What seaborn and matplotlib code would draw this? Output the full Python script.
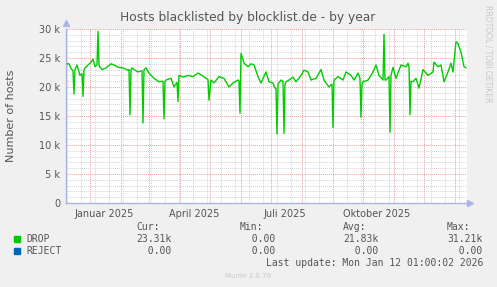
import matplotlib
matplotlib.use("Agg")
import matplotlib.pyplot as plt
import matplotlib.dates as mdates
import matplotlib.ticker as mticker
import seaborn as sns
import pandas as pd

# ---- data -------------------------------------------------------------
dates = [
    "2024-12-09", "2024-12-11", "2024-12-13", "2024-12-15", "2024-12-16", "2024-12-17",
    "2024-12-19", "2024-12-22", "2024-12-24", "2024-12-25", "2024-12-26", "2024-12-27",
    "2024-12-29", "2025-01-02", "2025-01-04", "2025-01-06", "2025-01-08", "2025-01-09",
    "2025-01-10", "2025-01-11", "2025-01-13", "2025-01-17", "2025-01-22", "2025-01-25",
    "2025-01-29", "2025-02-03", "2025-02-08", "2025-02-09", "2025-02-10", "2025-02-11",
    "2025-02-12", "2025-02-14", "2025-02-18", "2025-02-22", "2025-02-23", "2025-02-24",
    "2025-02-26", "2025-03-01", "2025-03-06", "2025-03-11", "2025-03-15", "2025-03-16",
    "2025-03-17", "2025-03-18", "2025-03-23", "2025-03-26", "2025-03-29", "2025-03-30",
    "2025-03-31", "2025-04-04", "2025-04-09", "2025-04-14", "2025-04-19", "2025-04-22",
    "2025-04-27", "2025-04-29", "2025-04-30", "2025-05-02", "2025-05-05", "2025-05-10",
    "2025-05-15", "2025-05-20", "2025-05-24", "2025-05-29", "2025-05-30", "2025-05-31",
    "2025-06-01", "2025-06-04", "2025-06-08", "2025-06-11", "2025-06-14", "2025-06-18",
    "2025-06-21", "2025-06-26", "2025-06-29", "2025-07-03", "2025-07-05", "2025-07-06",
    "2025-07-07", "2025-07-08", "2025-07-11", "2025-07-13", "2025-07-14", "2025-07-15",
    "2025-07-16", "2025-07-19", "2025-07-23", "2025-07-26", "2025-07-31", "2025-08-03",
    "2025-08-07", "2025-08-10", "2025-08-15", "2025-08-20", "2025-08-23", "2025-08-28",
    "2025-08-31", "2025-09-01", "2025-09-02", "2025-09-06", "2025-09-11", "2025-09-14",
    "2025-09-19", "2025-09-22", "2025-09-26", "2025-09-28", "2025-09-29", "2025-09-30",
    "2025-10-01", "2025-10-06", "2025-10-11", "2025-10-14", "2025-10-17", "2025-10-21",
    "2025-10-22", "2025-10-23", "2025-10-24", "2025-10-27", "2025-10-28", "2025-10-29",
    "2025-10-31", "2025-11-03", "2025-11-08", "2025-11-13", "2025-11-15", "2025-11-16",
    "2025-11-17", "2025-11-18", "2025-11-20", "2025-11-23", "2025-11-26", "2025-11-30",
    "2025-12-05", "2025-12-10", "2025-12-11", "2025-12-15", "2025-12-18", "2025-12-21",
    "2025-12-25", "2025-12-28", "2025-12-30", "2026-01-02", "2026-01-04", "2026-01-07",
    "2026-01-10", "2026-01-12",
]
drop_hosts = [
    24000, 24000, 23200, 22800, 18800, 23000,
    23800, 22000, 22300, 18400, 23000, 23300,
    23600, 24300, 24800, 23500, 23800, 29600,
    23800, 23400, 23000, 23300, 24000, 23800,
    23400, 23300, 22900, 23000, 15200, 23000,
    23300, 23000, 22600, 22800, 13800, 23000,
    23300, 22400, 21500, 20900, 21000, 14500,
    21000, 21200, 21500, 20000, 20800, 17500,
    22000, 21700, 22000, 21800, 22400, 22100,
    21500, 21300, 17700, 21200, 20700, 21800,
    21500, 20000, 20700, 21200, 21000, 15500,
    25800, 24100, 23500, 24000, 23800, 21800,
    20700, 22600, 20900, 20700, 19800, 19800,
    11900, 20500, 21200, 21000, 12000, 20500,
    20900, 21200, 21700, 20900, 22000, 22900,
    22600, 21200, 21500, 23000, 21200, 20000,
    20500, 13000, 21200, 21800, 21200, 22600,
    22000, 21200, 22400, 21500, 14800, 20500,
    20900, 21200, 22600, 23800, 22000, 21200,
    29100, 21200, 21200, 21800, 12200, 22000,
    23400, 21500, 23800, 23500, 24100, 23500,
    15200, 21000, 20900, 21500, 19800, 23000,
    22000, 22600, 24300, 23500, 23800, 20900,
    22600, 24100, 22600, 27800, 27500, 26000,
    23500, 23300,
]

series_names = ["DROP", "REJECT"]
series_colors = ["#00CC00", "#0066B3"]
stat_headers = ["Cur:", "Min:", "Avg:", "Max:"]
stat_values = [
    ["23.31k", "  0.00 ", "21.83k", "31.21k"],
    ["  0.00 ", "  0.00 ", "  0.00 ", "  0.00 "],
]
quarter_labels = ["Januar 2025", "April 2025", "Juli 2025", "Oktober 2025"]
quarter_label_dates = ["2025-01-15", "2025-04-15", "2025-07-15", "2025-10-15"]
y_ticks = [0, 5000, 10000, 15000, 20000, 25000, 30000]

df = pd.DataFrame({"date": pd.to_datetime(dates), "hosts": drop_hosts})

# ---- figure -----------------------------------------------------------
sns.set_theme(style="white")
plt.rcParams["font.family"] = ["DejaVu Sans"]

W, H = 497, 287
fig = plt.figure(figsize=(W / 100, H / 100), dpi=100, facecolor="#F0F0F0")
ax = fig.add_axes([66 / W, (H - 203) / H, 401 / W, 174 / H])
ax.set_facecolor("white")

sns.lineplot(data=df, x="date", y="hosts", ax=ax, color=series_colors[0],
             linewidth=1.0, zorder=3)

ax.set_xlim(pd.Timestamp("2024-12-08"), pd.Timestamp("2026-01-13"))
ax.set_ylim(0, 30000)

# grid
ax.xaxis.set_major_locator(mdates.MonthLocator())
ax.xaxis.set_minor_locator(mdates.WeekdayLocator(byweekday=mdates.MO, interval=2))
ax.yaxis.set_major_locator(mticker.FixedLocator(y_ticks))
ax.yaxis.set_minor_locator(mticker.MultipleLocator(1000))
ax.grid(which="major", color="#E8A0A0", linestyle=(0, (1, 1)), linewidth=0.7, zorder=1)
ax.grid(which="minor", color="#D4D4D4", linestyle=(0, (1, 1)), linewidth=0.7, zorder=0)
ax.set_axisbelow(True)

ax.set_xticklabels([])
ax.tick_params(axis="x", which="both", length=0, labelbottom=False)
ax.tick_params(axis="y", which="both", length=0, labelsize=7, labelcolor="#555555", pad=4)
ax.yaxis.set_major_formatter(mticker.FuncFormatter(
    lambda v, p: "0" if v == 0 else f"{v/1000:.0f} k"))

for lab, d in zip(quarter_labels, quarter_label_dates):
    ax.text(mdates.date2num(pd.Timestamp(d)), -0.035, lab,
            transform=ax.get_xaxis_transform(), ha="center", va="top",
            fontsize=7, color="#555555")

ax.set_xlabel("")
ax.set_ylabel("")
fig.text(11 / W, 1 - 116 / H, "Number of hosts", rotation=90, ha="center",
         va="center", fontsize=8, color="#555555")

for s in ["top", "right"]:
    ax.spines[s].set_visible(False)
for s in ["left", "bottom"]:
    ax.spines[s].set_color("#AAB4E6")
    ax.spines[s].set_linewidth(1.0)
ax.plot([1.008], [0], marker=">", color="#AAB4E6", markersize=4,
        transform=ax.transAxes, clip_on=False)
ax.plot([0], [1.035], marker="^", color="#AAB4E6", markersize=4,
        transform=ax.transAxes, clip_on=False)

# title
fig.text(248 / W, 1 - 17 / H, "Hosts blacklisted by blocklist.de - by year",
         ha="center", va="center", fontsize=8.8, color="#555555")
fig.text(488 / W, 1 - 54 / H, "RRDTOOL / TOBI OETIKER", rotation=270,
         ha="center", va="center", fontsize=5.5, color="#C8C8C8")

# legend block (monospace)
mono = "DejaVu Sans Mono"
col_x = [136, 240, 343, 447]
for hx, h in zip(col_x, stat_headers):
    fig.text(hx / W, 1 - 227 / H, h, family=mono, fontsize=7, color="#555555",
             ha="left", va="center")
rows_y = [239, 251]
for name, col, vals, ry in zip(series_names, series_colors, stat_values, rows_y):
    fig.patches.append(plt.Rectangle((14 / W, 1 - (ry + 3) / H), 6 / W, 6 / H,
                                     transform=fig.transFigure, color=col))
    fig.text(26 / W, 1 - ry / H, name, family=mono, fontsize=7, color="#555555",
             ha="left", va="center")
    for vx, v in zip(col_x, vals):
        fig.text(vx / W, 1 - ry / H, v, family=mono, fontsize=7, color="#555555",
                 ha="left", va="center")
fig.text(483 / W, 1 - 263 / H, "Last update: Mon Jan 12 01:00:02 2026",
         family=mono, fontsize=7, color="#555555", ha="right", va="center")
fig.text(248 / W, 1 - 276 / H, "Munin 2.0.76", fontsize=5, color="#C8C8C8",
         ha="center", va="center")

fig.savefig("out.png", dpi=100, facecolor=fig.get_facecolor())
